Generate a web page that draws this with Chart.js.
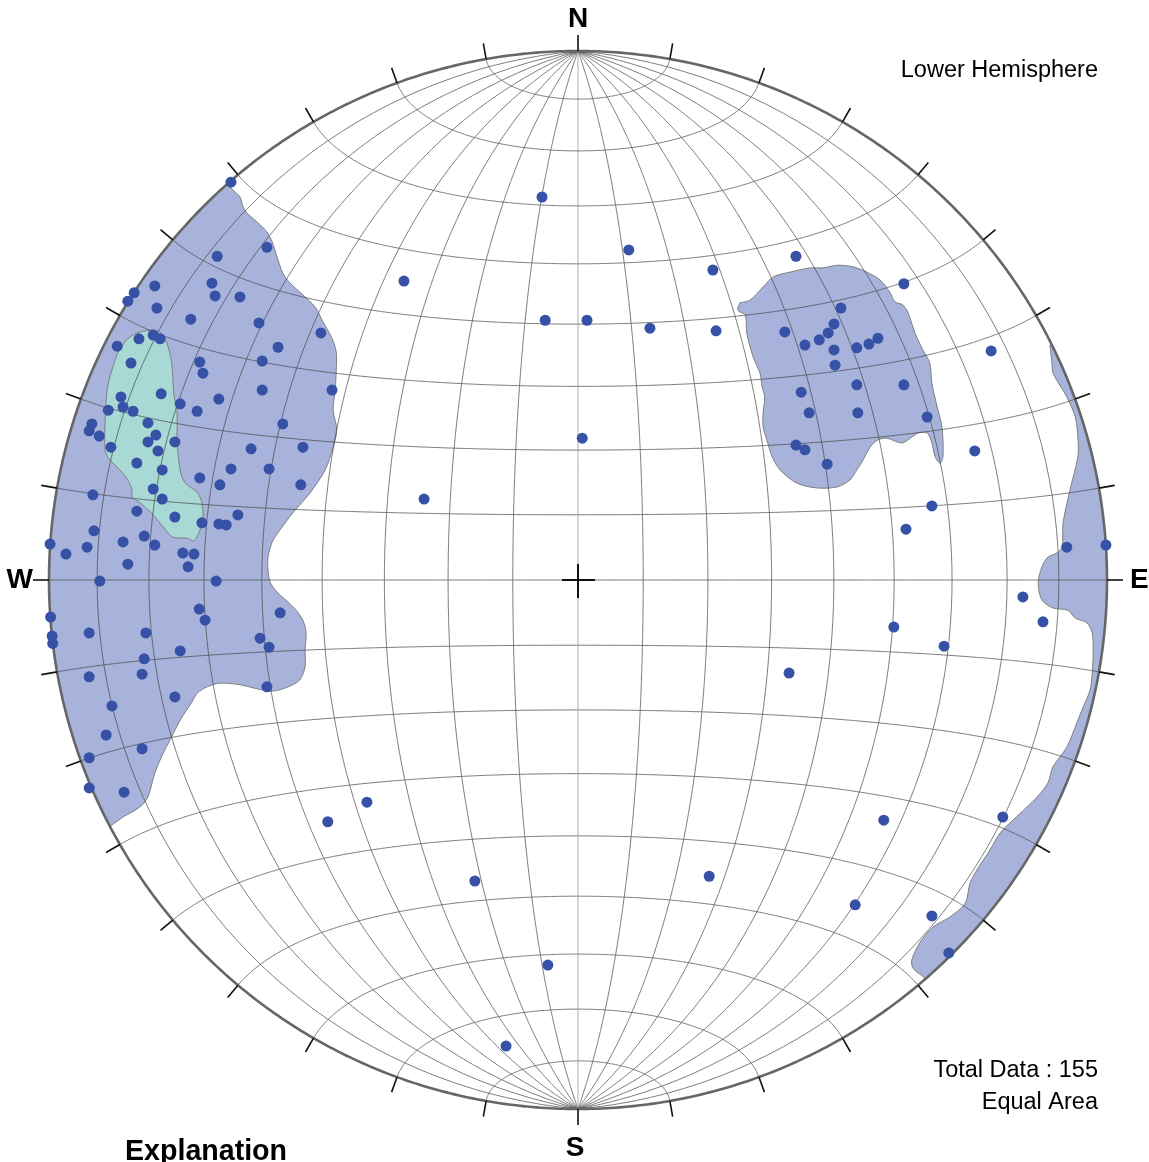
<!DOCTYPE html>
<html>
<head>
<meta charset="utf-8">
<title>Equal Area Net</title>
<script src="https://cdn.jsdelivr.net/npm/chart.js@4.4.1/dist/chart.umd.min.js"></script>
<style>
  html, body { margin: 0; padding: 0; background: #ffffff; overflow: hidden; }
  canvas { display: block; }
</style>
</head>
<body>
<canvas id="net" width="1149" height="1162"></canvas>
<script>
// Poles in equal-area net coordinates: x = east, y = north, primitive circle radius = 1.
const polesWestUpper = [
  [-0.656,0.752],[-0.588,0.629],[-0.682,0.612],[-0.800,0.556],[-0.839,0.543],[-0.851,0.527],
  [-0.692,0.561],[-0.686,0.537],[-0.639,0.535],[-0.796,0.514],[-0.732,0.493],[-0.603,0.486],
  [-0.486,0.467],[-0.567,0.440],[-0.871,0.442],[-0.830,0.456],[-0.803,0.463],[-0.790,0.456],
  [-0.715,0.412],[-0.709,0.391],[-0.597,0.414],[-0.845,0.410],[-0.597,0.359],[-0.465,0.359],
  [-0.864,0.346],[-0.788,0.352],[-0.752,0.333],[-0.679,0.342]
];
const polesWestMiddle = [
  [-0.888,0.321],[-0.860,0.327],[-0.841,0.319],[-0.720,0.319],[-0.919,0.295],[-0.924,0.282],
  [-0.905,0.272],[-0.813,0.297],[-0.798,0.274],[-0.813,0.261],[-0.762,0.261],[-0.794,0.244],
  [-0.883,0.251],[-0.558,0.295],[-0.618,0.248],[-0.520,0.251],[-0.834,0.221],[-0.786,0.208],
  [-0.656,0.210],[-0.584,0.210],[-0.715,0.193],[-0.677,0.180],[-0.524,0.180],[-0.803,0.172],
  [-0.786,0.153],[-0.917,0.161],[-0.834,0.130],[-0.762,0.119],[-0.711,0.108],[-0.679,0.106],
  [-0.665,0.104],[-0.643,0.123],[-0.915,0.093],[-0.820,0.083],[-0.860,0.072],[-0.800,0.066],
  [-0.928,0.062],[-0.998,0.068],[-0.968,0.049],[-0.747,0.051],[-0.726,0.049],[-0.851,0.030],
  [-0.737,0.025],[-0.904,-0.002],[-0.684,-0.002]
];
const polesWestLower = [
  [-0.997,-0.070],[-0.994,-0.106],[-0.993,-0.120],[-0.924,-0.100],[-0.817,-0.100],[-0.716,-0.055],
  [-0.705,-0.076],[-0.563,-0.062],[-0.601,-0.110],[-0.584,-0.127],[-0.752,-0.134],[-0.820,-0.149],
  [-0.824,-0.178],[-0.924,-0.183],[-0.588,-0.202],[-0.762,-0.221],[-0.881,-0.238],[-0.892,-0.293],
  [-0.824,-0.319],[-0.924,-0.336],[-0.924,-0.393],[-0.858,-0.401]
];
const polesEast = [
  [0.412,0.612],[0.616,0.560],[0.497,0.514],[0.484,0.484],[0.473,0.467],[0.456,0.454],
  [0.429,0.444],[0.391,0.469],[0.484,0.435],[0.486,0.406],[0.527,0.439],[0.550,0.446],
  [0.567,0.457],[0.422,0.355],[0.527,0.369],[0.616,0.369],[0.437,0.316],[0.529,0.316],
  [0.660,0.308],[0.412,0.255],[0.429,0.246],[0.471,0.219]
];
const polesEastRim = [
  [0.924,0.062],[0.998,0.066],[0.841,-0.032],[0.879,-0.079],[0.803,-0.448],[0.669,-0.635],[0.701,-0.705]
];
const polesScattered = [
  [-0.068,0.724],[0.096,0.624],[0.255,0.586],[-0.329,0.565],[-0.062,0.491],[0.017,0.491],
  [0.136,0.476],[0.261,0.471],[0.781,0.433],[0.008,0.268],[0.750,0.244],[-0.291,0.153],
  [0.669,0.140],[0.620,0.096],[0.597,-0.089],[0.692,-0.125],[0.399,-0.176],[-0.399,-0.420],
  [-0.473,-0.457],[0.578,-0.454],[-0.195,-0.569],[0.248,-0.560],[0.524,-0.614],[-0.057,-0.728],
  [-0.136,-0.881]
];

// Density contour outlines (outer level), closed rings; parts beyond the primitive are clipped.
const contourWest = [
  [-0.672,0.758],[-0.652,0.737],[-0.639,0.724],[-0.633,0.705],[-0.626,0.694],[-0.607,0.677],
  [-0.588,0.658],[-0.578,0.639],[-0.569,0.611],[-0.558,0.580],[-0.544,0.561],[-0.520,0.539],
  [-0.497,0.516],[-0.482,0.488],[-0.465,0.457],[-0.457,0.431],[-0.457,0.397],[-0.459,0.359],
  [-0.463,0.321],[-0.456,0.284],[-0.463,0.251],[-0.478,0.208],[-0.507,0.164],[-0.539,0.127],
  [-0.563,0.095],[-0.578,0.072],[-0.586,0.043],[-0.586,0.019],[-0.582,-0.004],[-0.569,-0.023],
  [-0.550,-0.040],[-0.533,-0.057],[-0.520,-0.076],[-0.514,-0.100],[-0.516,-0.132],[-0.516,-0.164],
  [-0.526,-0.189],[-0.548,-0.202],[-0.577,-0.210],[-0.605,-0.206],[-0.639,-0.198],[-0.677,-0.195],
  [-0.701,-0.202],[-0.720,-0.214],[-0.730,-0.231],[-0.752,-0.265],[-0.771,-0.302],[-0.784,-0.327],
  [-0.800,-0.365],[-0.813,-0.410],[-0.828,-0.429],[-0.860,-0.448],[-0.881,-0.463],
  [-0.927,-0.493],[-1.014,-0.272],[-1.050,0.000],[-1.014,0.272],[-0.909,0.525],[-0.742,0.742],
  [-0.672,0.758]
];
const contourEast = [
  [0.306,0.524],[0.302,0.510],[0.316,0.501],[0.319,0.467],[0.331,0.422],[0.344,0.391],
  [0.348,0.365],[0.353,0.346],[0.350,0.316],[0.350,0.289],[0.357,0.265],[0.367,0.233],
  [0.382,0.208],[0.414,0.183],[0.452,0.174],[0.490,0.176],[0.514,0.189],[0.527,0.208],
  [0.539,0.227],[0.552,0.251],[0.567,0.265],[0.584,0.268],[0.612,0.259],[0.628,0.268],
  [0.643,0.278],[0.660,0.278],[0.669,0.259],[0.675,0.233],[0.684,0.221],[0.690,0.233],
  [0.688,0.289],[0.679,0.327],[0.669,0.372],[0.665,0.410],[0.652,0.435],[0.637,0.467],
  [0.624,0.505],[0.614,0.520],[0.599,0.526],[0.590,0.543],[0.571,0.567],[0.546,0.582],
  [0.520,0.592],[0.490,0.595],[0.463,0.590],[0.439,0.590],[0.401,0.582],[0.369,0.573],
  [0.350,0.554],[0.325,0.529],[0.306,0.524]
];
const contourEastRim = [
  [0.892,0.444],[0.896,0.410],[0.898,0.391],[0.924,0.346],[0.940,0.308],[0.945,0.270],
  [0.945,0.233],[0.930,0.170],[0.917,0.108],[0.915,0.062],[0.905,0.051],[0.888,0.043],
  [0.877,0.025],[0.870,-0.006],[0.877,-0.038],[0.898,-0.053],[0.926,-0.057],[0.940,-0.072],
  [0.962,-0.081],[0.972,-0.100],[0.974,-0.132],[0.972,-0.176],[0.968,-0.208],[0.955,-0.240],
  [0.943,-0.270],[0.924,-0.316],[0.898,-0.353],[0.888,-0.384],[0.868,-0.410],[0.849,-0.429],
  [0.822,-0.454],[0.798,-0.478],[0.779,-0.510],[0.754,-0.548],[0.741,-0.573],[0.732,-0.611],
  [0.703,-0.637],[0.671,-0.656],[0.646,-0.686],[0.631,-0.718],[0.633,-0.733],[0.646,-0.745],
  [0.703,-0.780],[0.909,-0.525],[1.034,-0.182],[1.034,0.182],[0.952,0.444],[0.892,0.444]
];
// Inner (higher density) contour.
const contourWestCore = [
  [-0.805,0.473],[-0.796,0.471],[-0.786,0.465],[-0.777,0.448],[-0.769,0.416],[-0.766,0.384],
  [-0.764,0.350],[-0.758,0.321],[-0.758,0.265],[-0.754,0.221],[-0.749,0.195],[-0.739,0.180],
  [-0.720,0.166],[-0.711,0.146],[-0.709,0.113],[-0.716,0.091],[-0.726,0.074],[-0.739,0.079],
  [-0.766,0.081],[-0.784,0.100],[-0.803,0.123],[-0.828,0.146],[-0.843,0.157],[-0.843,0.170],
  [-0.851,0.189],[-0.866,0.208],[-0.888,0.231],[-0.894,0.246],[-0.894,0.297],[-0.892,0.340],
  [-0.888,0.372],[-0.881,0.397],[-0.870,0.429],[-0.853,0.454],[-0.834,0.467],[-0.805,0.473]
];

const netLabels = { north: 'N', south: 'S', west: 'W', east: 'E' };
const titleText = 'Lower Hemisphere';
const infoLines = ['Total Data : 155', 'Equal Area'];
const footerText = 'Explanation';

// ---- Schmidt net geometry (lower hemisphere, Lambert equal-area) ----
const DEG = Math.PI / 180;
function project(x, y, z) {
  const k = 1 / Math.sqrt(1 - z);
  return { x: x * k, y: y * k };
}
function greatCircle(dip) {        // great circle through N and S
  const pts = [];
  for (let t = 0; t <= 180; t += 2) {
    const c = Math.cos(t * DEG), s = Math.sin(t * DEG);
    pts.push(project(s * Math.cos(dip * DEG), c, -s * Math.sin(dip * DEG)));
  }
  return pts;
}
function smallCircle(a) {          // cone about the N-S axis
  const pts = [];
  for (let s = 0; s <= 180; s += 2) {
    pts.push(project(Math.sin(a * DEG) * Math.cos(s * DEG), Math.cos(a * DEG),
                     -Math.sin(a * DEG) * Math.sin(s * DEG)));
  }
  return pts;
}
function primitive() {
  const pts = [];
  for (let a = 0; a <= 360; a += 1) pts.push({ x: Math.cos(a * DEG), y: Math.sin(a * DEG) });
  return pts;
}
const toXY = arr => arr.map(p => ({ x: p[0], y: p[1] }));

// A tiny tension keeps Chart.js on its full path renderer, which suits curves that are not x-sorted.
const CURVE = 0.0001;
const gridDatasets = [];
for (let d = 10; d <= 170; d += 10) {
  gridDatasets.push({
    data: greatCircle(d), showLine: true, pointRadius: 0, fill: false, tension: CURVE,
    borderColor: d === 90 ? 'rgba(150,150,150,0.9)' : 'rgba(70,70,70,0.8)',
    borderWidth: 0.9, order: 5, clip: false
  });
  gridDatasets.push({
    data: smallCircle(d), showLine: true, pointRadius: 0, fill: false, tension: CURVE,
    borderColor: d === 90 ? 'rgba(90,90,90,0.9)' : 'rgba(70,70,70,0.8)',
    borderWidth: 0.9, order: 5, clip: false
  });
}

const contourStyle = {
  showLine: true, pointRadius: 0, fill: 'shape', tension: 0.3, clip: false,
  borderColor: '#7f7f7f', borderWidth: 1
};
const datasets = [
  { data: toXY(polesWestUpper.concat(polesWestMiddle, polesWestLower, polesEast, polesEastRim, polesScattered)),
    pointRadius: 5.5, pointHoverRadius: 5.5, backgroundColor: '#3651a6', borderWidth: 0,
    order: 1, clip: false },
  { data: primitive(), showLine: true, pointRadius: 0, fill: false, tension: CURVE,
    borderColor: '#666666', borderWidth: 2.6, order: 3, clip: false },
  ...gridDatasets,
  Object.assign({ data: toXY(contourWestCore), backgroundColor: '#a8d9d4', order: 9 }, contourStyle),
  Object.assign({ data: toXY(contourWest), backgroundColor: '#a7b3da', order: 10 }, contourStyle),
  Object.assign({ data: toXY(contourEast), backgroundColor: '#a7b3da', order: 10 }, contourStyle),
  Object.assign({ data: toXY(contourEastRim), backgroundColor: '#a7b3da', order: 10 }, contourStyle)
];
const coreIndex = 2 + gridDatasets.length;

function netFrame(chart) {
  const sx = chart.scales.x, sy = chart.scales.y;
  const cx = sx.getPixelForValue(0), cy = sy.getPixelForValue(0);
  return { cx, cy, r: sx.getPixelForValue(1) - cx };
}

// Clips contour fills to the primitive, then draws ticks, centre cross and lettering.
const netDecor = {
  id: 'netDecor',
  beforeDatasetsDraw(chart) {
    const { ctx } = chart;
    const { cx, cy, r } = netFrame(chart);
    ctx.save();
    ctx.beginPath();
    ctx.arc(cx, cy, r, 0, Math.PI * 2);
    ctx.clip();
    this._clipped = true;
  },
  afterDatasetDraw(chart, args) {
    if (args.index === coreIndex && this._clipped) {
      chart.ctx.restore();
      this._clipped = false;
    }
  },
  afterDatasetsDraw(chart) {
    if (this._clipped) { chart.ctx.restore(); this._clipped = false; }
  },
  afterDraw(chart) {
    const { ctx, chartArea: area } = chart;
    const { cx, cy, r } = netFrame(chart);
    ctx.save();
    // rim ticks every 10 degrees
    ctx.strokeStyle = '#111111';
    ctx.lineWidth = 1.6;
    for (let a = 0; a < 360; a += 10) {
      const c = Math.cos(a * DEG), s = Math.sin(a * DEG);
      ctx.beginPath();
      ctx.moveTo(cx + c * r, cy - s * r);
      ctx.lineTo(cx + c * (r + 16), cy - s * (r + 16));
      ctx.stroke();
    }
    // centre cross
    ctx.lineWidth = 2;
    ctx.beginPath();
    ctx.moveTo(cx - 16, cy); ctx.lineTo(cx + 17, cy);
    ctx.moveTo(cx, cy - 16); ctx.lineTo(cx, cy + 18);
    ctx.stroke();
    // compass letters
    ctx.fillStyle = '#000000';
    ctx.font = 'bold 28px "Liberation Sans", Arial, sans-serif';
    ctx.textBaseline = 'alphabetic';
    ctx.textAlign = 'center';
    ctx.fillText(netLabels.north, cx, area.top - 24);
    ctx.fillText(netLabels.south, cx - 3, area.bottom + 47);
    ctx.textAlign = 'right';
    ctx.fillText(netLabels.west, area.left - 16, cy + 8);
    ctx.textAlign = 'left';
    ctx.fillText(netLabels.east, area.right + 23, cy + 8);
    // annotations
    ctx.font = '23.5px "Liberation Sans", Arial, sans-serif';
    ctx.textAlign = 'right';
    ctx.fillText(titleText, area.right - 9, area.top + 26);
    ctx.fillText(infoLines[0], area.right - 9, area.bottom - 32);
    ctx.fillText(infoLines[1], area.right - 9, area.bottom);
    ctx.font = 'bold 28.6px "Liberation Sans", Arial, sans-serif';
    ctx.textAlign = 'left';
    ctx.fillText(footerText, 125, area.bottom + 51);
    ctx.restore();
  }
};

new Chart(document.getElementById('net'), {
  type: 'scatter',
  data: { datasets },
  options: {
    responsive: false,
    animation: false,
    events: [],
    layout: { padding: { left: 49, right: 42, top: 51, bottom: 53 } },
    scales: {
      x: { type: 'linear', min: -1, max: 1, display: false },
      y: { type: 'linear', min: -1, max: 1, display: false }
    },
    plugins: {
      legend: { display: false },
      tooltip: { enabled: false },
      title: { display: false }
    }
  },
  plugins: [netDecor]
});
</script>
</body>
</html>
